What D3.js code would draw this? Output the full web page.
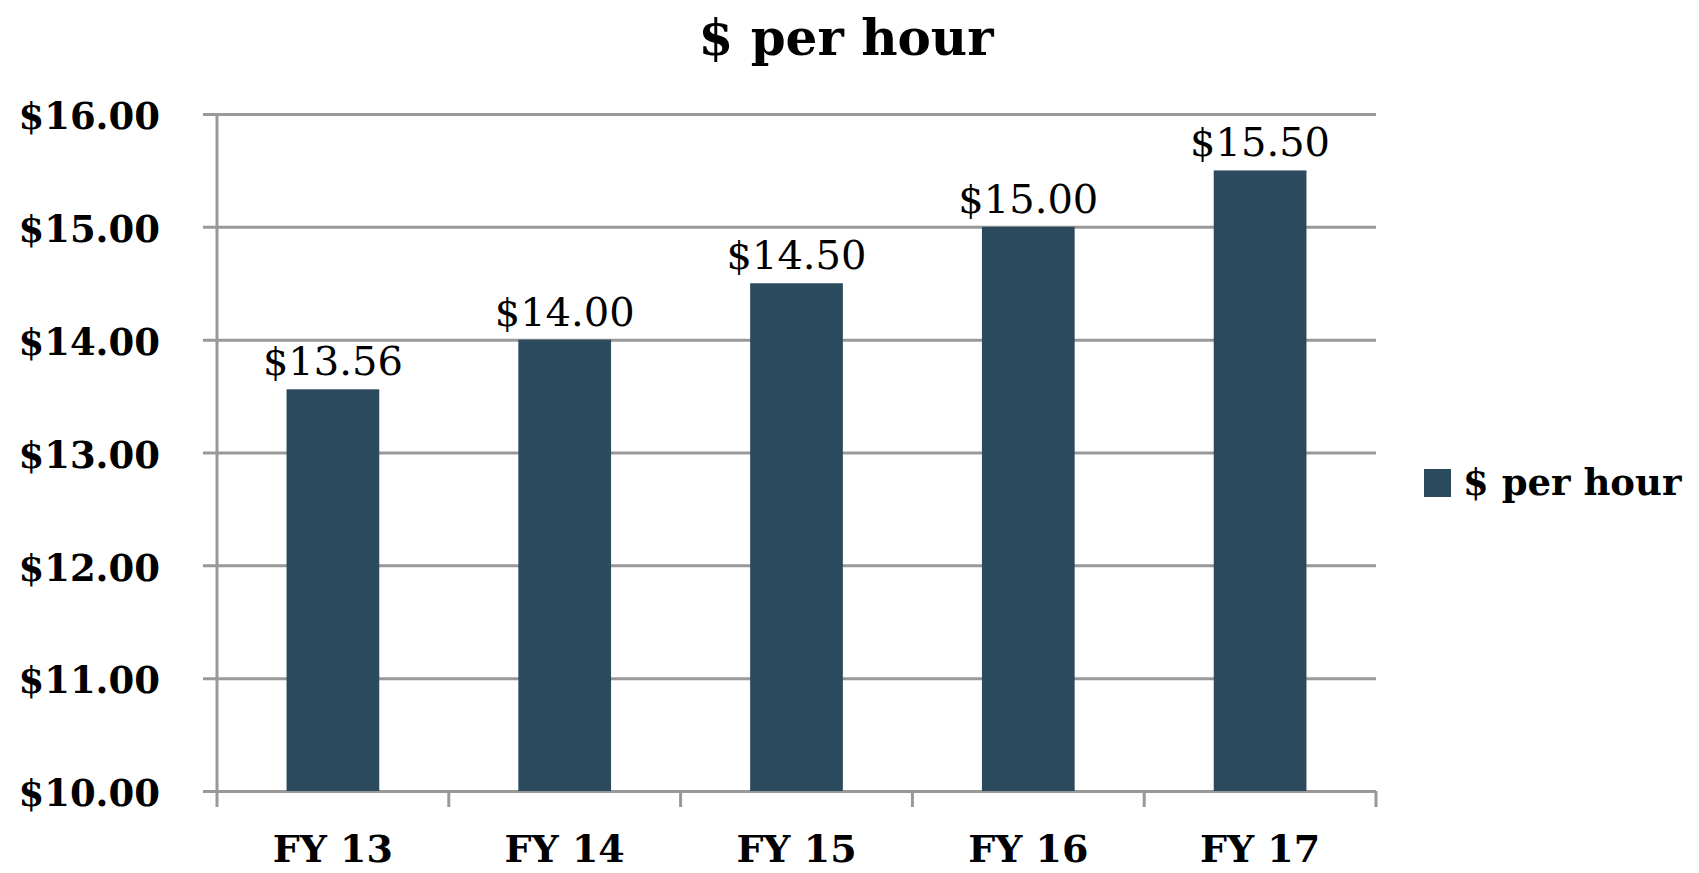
<!DOCTYPE html>
<html>
<head>
<meta charset="utf-8">
<script src="https://cdn.jsdelivr.net/npm/d3@7"></script>
<style>
  body { margin: 0; background: #fff; }
  svg text { font-family: "DejaVu Serif", Georgia, serif; fill: #000; }
</style>
</head>
<body>
<script>
(function() {

// chart values
var years = ["FY 13", "FY 14", "FY 15", "FY 16", "FY 17"];
var wages = [13.56, 14.00, 14.50, 15.00, 15.50];
var yTicks = [10, 11, 12, 13, 14, 15, 16];
var seriesName = "$ per hour";

var W = 1699, H = 873;
var margin = { top: 114, left: 217, right: 323, bottom: 82 },
    width = W - margin.left - margin.right,
    height = H - margin.top - margin.bottom;

var gridColor = "#999999",
    barColor = "#2c4a5e";

var svg = d3.select("body").append("svg")
    .attr("width", W)
    .attr("height", H);

// title
svg.append("text")
    .attr("x", 846)
    .attr("y", 55)
    .attr("text-anchor", "middle")
    .attr("font-size", "50px")
    .attr("font-weight", "bold")
    .text(seriesName);

var g = svg.append("g")
    .attr("transform", "translate(" + margin.left + "," + margin.top + ")");

var x = d3.scaleBand()
    .domain(years)
    .range([0, width])
    .paddingInner(0.6)
    .paddingOuter(0.3);

var y = d3.scaleLinear()
    .domain([10, 16])
    .range([height, 0]);

// horizontal gridlines + y labels
var yAxis = g.append("g")
    .call(d3.axisLeft(y)
        .tickValues(yTicks)
        .tickSize(-width)
        .tickFormat(function(d) { return "$" + d.toFixed(2); }));
yAxis.select(".domain").remove();
yAxis.selectAll(".tick line")
    .attr("x1", -14)
    .attr("stroke", gridColor)
    .attr("stroke-width", 3);
yAxis.selectAll(".tick text")
    .attr("x", -57)
    .attr("dy", "0.4em")
    .attr("font-size", "37px")
    .attr("font-weight", "bold")
    .attr("fill", "#000");

// vertical axis line
g.append("line")
    .attr("x1", 0).attr("x2", 0)
    .attr("y1", 0).attr("y2", height)
    .attr("stroke", gridColor)
    .attr("stroke-width", 3);

// category boundary ticks under the x axis
var bounds = d3.range(years.length + 1).map(function(i) { return i * x.step(); });
g.selectAll("line.xtick")
    .data(bounds)
    .enter()
    .append("line")
    .attr("class", "xtick")
    .attr("x1", function(d) { return d; })
    .attr("x2", function(d) { return d; })
    .attr("y1", height)
    .attr("y2", height + 16)
    .attr("stroke", gridColor)
    .attr("stroke-width", 3);

// bars
g.selectAll("rect.bar")
    .data(wages)
    .enter()
    .append("rect")
    .attr("class", "bar")
    .attr("x", function(d, i) { return x(years[i]); })
    .attr("width", x.bandwidth())
    .attr("y", function(d) { return y(d); })
    .attr("height", function(d) { return height - y(d); })
    .attr("fill", barColor);

// value labels
g.selectAll("text.val")
    .data(wages)
    .enter()
    .append("text")
    .attr("class", "val")
    .attr("x", function(d, i) { return x(years[i]) + x.bandwidth() / 2; })
    .attr("y", function(d) { return y(d) - 14; })
    .attr("text-anchor", "middle")
    .attr("font-size", "40px")
    .text(function(d) { return "$" + d.toFixed(2); });

// category labels
g.selectAll("text.cat")
    .data(years)
    .enter()
    .append("text")
    .attr("class", "cat")
    .attr("x", function(d) { return x(d) + x.bandwidth() / 2; })
    .attr("y", height + 71)
    .attr("text-anchor", "middle")
    .attr("font-size", "38px")
    .attr("font-weight", "bold")
    .text(function(d) { return d; });

// legend
var legend = svg.append("g")
    .attr("transform", "translate(1424,469)");
legend.append("rect")
    .attr("width", 27)
    .attr("height", 28)
    .attr("fill", barColor);
legend.append("text")
    .attr("x", 39)
    .attr("y", 26)
    .attr("font-size", "37px")
    .attr("font-weight", "bold")
    .text(seriesName);

})();
</script>
</body>
</html>
